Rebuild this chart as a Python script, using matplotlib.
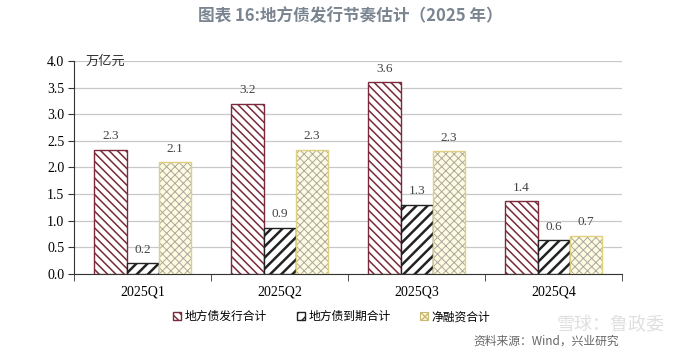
import numpy as np
import matplotlib.pyplot as plt
from matplotlib.patches import Patch

plt.rcParams['font.family'] = ['Noto Sans CJK SC', 'DejaVu Sans']

quarters = ['2025Q1', '2025Q2', '2025Q3', '2025Q4']
issuance = [2.33, 3.2, 3.6, 1.37]
maturity = [0.2, 0.87, 1.3, 0.63]
net_financing = [2.1, 2.33, 2.3, 0.72]
series_names = ['地方债发行合计', '地方债到期合计', '净融资合计']

fig = plt.figure(figsize=(7, 3.54), dpi=100)
ax = fig.add_axes([0.106, 0.226, 0.783, 0.602])

x = np.arange(len(quarters))
w = 0.235
num_font = 'Liberation Serif'

with plt.rc_context({'hatch.linewidth': 1.1}):
    b1 = ax.bar(x - w, issuance, w, facecolor='white', edgecolor='#7a2a3a',
                hatch='\\\\\\\\', linewidth=1.0, label=series_names[0], zorder=3)
with plt.rc_context({'hatch.linewidth': 1.8}):
    b2 = ax.bar(x, maturity, w, facecolor='white', edgecolor='#222222',
                hatch='///', linewidth=1.0, label=series_names[1], zorder=3)
with plt.rc_context({'hatch.linewidth': 0.7}):
    b3 = ax.bar(x + w, net_financing, w, facecolor='#fffbe0', edgecolor='#a8a8a0',
                hatch='xxxx', linewidth=0, zorder=3)
    h3 = Patch(facecolor='#fffbe0', edgecolor='#c8b870', hatch='xxxx',
               linewidth=0.8, label=series_names[2])
ax.bar(x + w, net_financing, w, fill=False, edgecolor='#e0cf80', linewidth=1.0, zorder=4)

for bars, vals in [(b1, issuance), (b2, maturity), (b3, net_financing)]:
    for rect, v in zip(bars, vals):
        ax.text(rect.get_x() + rect.get_width() / 2, v + 0.14, f'{v:.1f}',
                ha='center', va='bottom', fontsize=9.5, color='#444444',
                family=num_font)

ax.set_xlim(-0.5, 3.5)
ax.set_ylim(0, 4.0)
ax.set_yticks(np.arange(0, 4.01, 0.5))
ax.set_yticklabels([f'{t:.1f}' for t in np.arange(0, 4.01, 0.5)],
                   family=num_font, fontsize=10)
ax.set_xticks(x)
ax.set_xticklabels(quarters, family=num_font, fontsize=10)
ax.set_xticks(np.arange(-0.5, 3.51, 1), minor=True)
ax.tick_params(axis='x', which='major', length=0, pad=8)
ax.tick_params(axis='x', which='minor', length=5, direction='out', color='#333333')
ax.tick_params(axis='y', length=4, direction='out', color='#333333', pad=3)

ax.yaxis.grid(True, color='#c8c8c8', linewidth=0.9, zorder=0)
ax.spines['top'].set_visible(False)
ax.spines['right'].set_visible(False)
ax.spines['left'].set_color('#333333')
ax.spines['bottom'].set_color('#333333')

ax.text(0.02, 1.0, '万亿元', transform=ax.transAxes, fontsize=9.5,
        color='#333333', va='center', ha='left')

ax.legend(handles=[b1, b2, h3], loc='upper center', bbox_to_anchor=(0.47, -0.12),
          ncol=3, frameon=False, fontsize=8.5, handlelength=0.7, handleheight=0.7,
          columnspacing=2.5, handletextpad=0.3)

fig.text(0.5, 0.955, '图表 16:地方债发行节奏估计（2025 年）', ha='center', va='center',
         fontsize=12, fontweight='bold', color='#7a8591')
fig.text(0.885, 0.035, '资料来源：Wind，兴业研究', ha='right', va='center',
         fontsize=8.5, color='#666666')
fig.text(0.95, 0.08, '雪球：鲁政委', ha='right', va='center',
         fontsize=13, color='#d8d8d8', alpha=0.8)

fig.savefig('out.png', dpi=100)
